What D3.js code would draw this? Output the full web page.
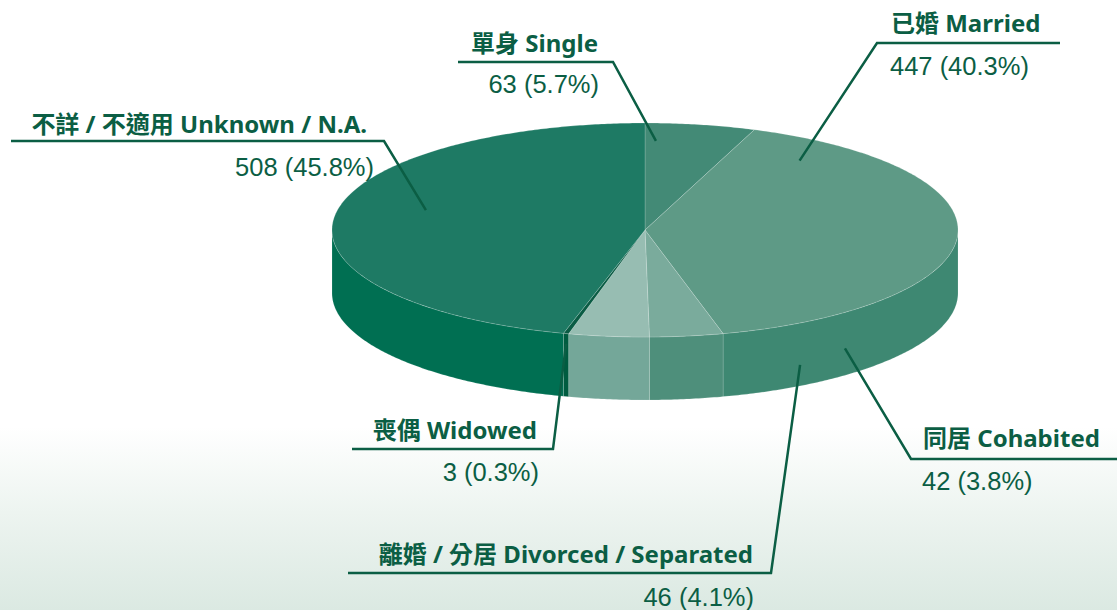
<!DOCTYPE html>
<html lang="zh-Hant">
  <head>
    <meta charset="UTF-8">
    <script src="https://d3js.org/d3.v7.min.js"></script>
    <title>Marital status</title>
    <style>
      html, body {
        margin: 0;
        padding: 0;
        width: 1117px;
        height: 610px;
        overflow: hidden;
        background: #fff;
      }

      .label {
        font-family: "Noto Sans", "Noto Sans CJK TC", sans-serif;
        font-weight: 700;
        font-size: 24px;
        fill: #0b5e44;
      }

      .value {
        font-family: "Liberation Sans", Arial, sans-serif;
        font-size: 25.5px;
        fill: #0b5e44;
      }

      .leader {
        fill: none;
        stroke: #0b5e44;
        stroke-width: 2.5;
      }
    </style>
  </head>
  <body>
    <div id="chart"></div>
    <script>
      // данные
      const labelsZh = ['單身', '已婚', '同居', '離婚 / 分居', '喪偶', '不詳 / 不適用'];
      const labelsEn = ['Single', 'Married', 'Cohabited', 'Divorced / Separated', 'Widowed', 'Unknown / N.A.'];
      const counts = [63, 447, 42, 46, 3, 508];
      const percents = [5.7, 40.3, 3.8, 4.1, 0.3, 45.8];

      const topColors = ['#438a76', '#5e9a86', '#7aab9c', '#97bdb2', '#0a5c44', '#1e7a64'];
      const sideColors = ['#2f7a64', '#3e8872', '#4e8f7b', '#74a799', '#005c40', '#006f52'];

      // раскладка подписей (a — угол точки выноски, r — доля радиуса, h — глубина на боковой стенке)
      const labelLayout = [
        { anchor: 'end', tx: 598, vx: 599, ly: 52, vy: 93, x0: 458, x1: 613, y: 62, a: 2.4, r: 0.834, h: 0 },
        { anchor: 'start', tx: 891, vx: 890, ly: 32, vy: 75, x0: 1060, x1: 877, y: 43, a: 37.3, r: 0.815, h: 0 },
        { anchor: 'start', tx: 923, vx: 922, ly: 447, vy: 490, x0: 1117, x1: 911, y: 459, a: 140.3, r: 1, h: 36 },
        { anchor: 'end', tx: 753, vx: 754, ly: 563, vy: 606, x0: 348, x1: 771, y: 573, a: 150.3, r: 1, h: 42 },
        { anchor: 'end', tx: 537, vx: 539, ly: 439, vy: 481, x0: 352, x1: 553, y: 449, a: 194.6, r: 1, h: 10 },
        { anchor: 'end', tx: 367, vx: 374, ly: 133, vy: 176, x0: 11, x1: 384, y: 141, a: 284.8, r: 0.724, h: 0 }
      ];

      const width = 1117;
      const height = 610;
      const cx = 645, cy = 230, rx = 313, ry = 107, depth = 63;

      const svg = d3.select('#chart')
        .append('svg')
        .attr('width', width)
        .attr('height', height);

      // фон
      const defs = svg.append('defs');
      const grad = defs.append('linearGradient')
        .attr('id', 'bg')
        .attr('x1', 0).attr('y1', 0).attr('x2', 0).attr('y2', 1);
      grad.append('stop').attr('offset', '0.7').attr('stop-color', '#ffffff');
      grad.append('stop').attr('offset', '0.84').attr('stop-color', '#edf4f0');
      grad.append('stop').attr('offset', '1').attr('stop-color', '#dbe9e2');
      svg.append('rect')
        .attr('width', width)
        .attr('height', height)
        .attr('fill', 'url(#bg)');

      // масштабы эллипса
      const x = d3.scaleLinear().domain([-1, 1]).range([cx - rx, cx + rx]);
      const y = d3.scaleLinear().domain([-1, 1]).range([cy - ry, cy + ry]);
      const pt = (a, r = 1, h = 0) => [x(r * Math.sin(a)), y(-r * Math.cos(a)) + h];

      const arcPoints = (a0, a1, h) => {
        const n = Math.max(2, Math.ceil((a1 - a0) / 0.01));
        return d3.range(n + 1).map(i => pt(a0 + (a1 - a0) * i / n, 1, h));
      };

      const pie = d3.pie().value(d => d).sort(null);
      const slices = pie(counts);
      const line = d3.line();

      // боковые стенки (только передняя половина)
      const sides = svg.append('g');
      slices.forEach((s, i) => {
        const a0 = Math.max(s.startAngle, Math.PI / 2);
        const a1 = Math.min(s.endAngle, Math.PI * 3 / 2);
        if (a0 >= a1) return;
        const pts = arcPoints(a0, a1, 0).concat(arcPoints(a0, a1, depth).reverse());
        sides.append('path')
          .attr('d', line(pts) + 'Z')
          .attr('fill', sideColors[i])
          .attr('stroke', 'rgba(255,255,255,0.18)')
          .attr('stroke-width', 0.8);
      });

      // верхние грани
      const tops = svg.append('g');
      slices.forEach((s, i) => {
        const pts = [[cx, cy]].concat(arcPoints(s.startAngle, s.endAngle, 0));
        tops.append('path')
          .attr('d', line(pts) + 'Z')
          .attr('fill', topColors[i])
          .attr('stroke', 'rgba(255,255,255,0.22)')
          .attr('stroke-width', 0.8);
      });

      // выноски и подписи
      const ann = svg.append('g');
      labelLayout.forEach((l, i) => {
        const p = pt(l.a * Math.PI / 180, l.r, l.h);
        ann.append('path')
          .attr('class', 'leader')
          .attr('d', line([[l.x0, l.y], [l.x1, l.y], p]));

        ann.append('text')
          .attr('class', 'label')
          .attr('x', l.tx)
          .attr('y', l.ly)
          .attr('text-anchor', l.anchor)
          .text(`${labelsZh[i]} ${labelsEn[i]}`);

        ann.append('text')
          .attr('class', 'value')
          .attr('x', l.vx)
          .attr('y', l.vy)
          .attr('text-anchor', l.anchor)
          .text(`${counts[i]} (${percents[i].toFixed(1)}%)`);
      });
    </script>
  </body>
</html>
